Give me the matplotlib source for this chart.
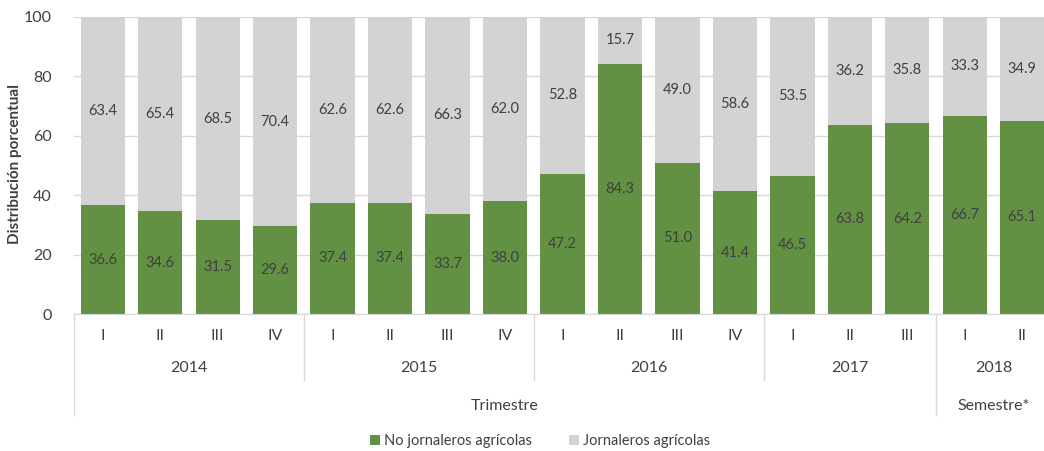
import matplotlib
matplotlib.use("Agg")
import matplotlib.pyplot as plt
import numpy as np

years = ["2014", "2015", "2016", "2017", "2018"]
periods = ["I", "II", "III", "IV", "I", "II", "III", "IV", "I", "II", "III", "IV",
           "I", "II", "III", "I", "II"]
group_sizes = [4, 4, 4, 3, 2]
no_jornaleros = [36.6, 34.6, 31.5, 29.6, 37.4, 37.4, 33.7, 38.0, 47.2, 84.3, 51.0, 41.4,
                 46.5, 63.8, 64.2, 66.7, 65.1]
jornaleros = [63.4, 65.4, 68.5, 70.4, 62.6, 62.6, 66.3, 62.0, 52.8, 15.7, 49.0, 58.6,
              53.5, 36.2, 35.8, 33.3, 34.9]
level2 = ["Trimestre", "Semestre*"]
level2_sizes = [15, 2]

plt.rcParams['font.family'] = ['Lato', 'DejaVu Sans']
GREEN = "#629144"
GRAY = "#D3D3D3"
TXT = "#404040"
SEP = "#D9D9D9"

W, H = 1044, 451
fig = plt.figure(figsize=(W / 100, H / 100), dpi=100)
x0, x1 = 74, 1051
y0, y1 = 314, 17
ax = fig.add_axes([x0 / W, 1 - y0 / H, (x1 - x0) / W, (y0 - y1) / H])

n = len(periods)
x = np.arange(n)
bw = 0.77
ax.bar(x, no_jornaleros, bw, color=GREEN, label="No jornaleros agrícolas", zorder=2)
ax.bar(x, jornaleros, bw, bottom=no_jornaleros, color=GRAY, label="Jornaleros agrícolas", zorder=2)

for i in range(n):
    ax.text(x[i], no_jornaleros[i] / 2, f"{no_jornaleros[i]:.1f}", ha="center", va="center",
            fontsize=10.5, color=TXT, zorder=3)
    ax.text(x[i], no_jornaleros[i] + jornaleros[i] / 2, f"{jornaleros[i]:.1f}", ha="center",
            va="center", fontsize=10.5, color=TXT, zorder=3)

ax.set_xlim(-0.5, n - 0.5)
ax.set_ylim(0, 100)
ax.set_yticks(range(0, 101, 20))
ax.yaxis.grid(True, color=SEP, lw=1, zorder=0)
ax.set_axisbelow(True)
for s in ["top", "right", "left"]:
    ax.spines[s].set_visible(False)
ax.spines["bottom"].set_color(SEP)
ax.tick_params(axis="y", length=0, labelsize=11.5, labelcolor=TXT, pad=16)
ax.set_xticks([])
fig.text(15 / W, 1 - 164 / H, "Distribución porcentual", rotation=90, ha="center", va="center",
         fontsize=11, fontweight="bold", color=TXT)

trans = ax.get_xaxis_transform()
def yax(py):
    return (y0 - py) / (y0 - y1)

for i in range(n):
    ax.text(x[i], yax(336), periods[i], ha="center", va="center", fontsize=11.5, color=TXT,
            transform=trans, clip_on=False)

start = 0
bounds = [0]
for yr, sz in zip(years, group_sizes):
    ax.text(start + sz / 2 - 0.5, yax(368), yr, ha="center", va="center", fontsize=11.5,
            color=TXT, transform=trans, clip_on=False)
    start += sz
    bounds.append(start)

lv2_bounds = [0]
s = 0
for lab, sz in zip(level2, level2_sizes):
    ax.text(s + sz / 2 - 0.5, yax(406), lab, ha="center", va="center", fontsize=11.5,
            color=TXT, transform=trans, clip_on=False)
    s += sz
    lv2_bounds.append(s)

for b in bounds:
    bottom = 415 if b in lv2_bounds else 380
    ax.plot([b - 0.5, b - 0.5], [0, yax(bottom)], color=SEP, lw=1, transform=trans,
            clip_on=False)

leg = fig.legend(loc="center", bbox_to_anchor=(540 / W, 1 - 441 / H), ncol=2, frameon=False,
                 fontsize=10.5, handlelength=0.7, handleheight=0.7, handletextpad=0.3,
                 columnspacing=2.5)
for t in leg.get_texts():
    t.set_color(TXT)

fig.savefig("out.png", dpi=100)
